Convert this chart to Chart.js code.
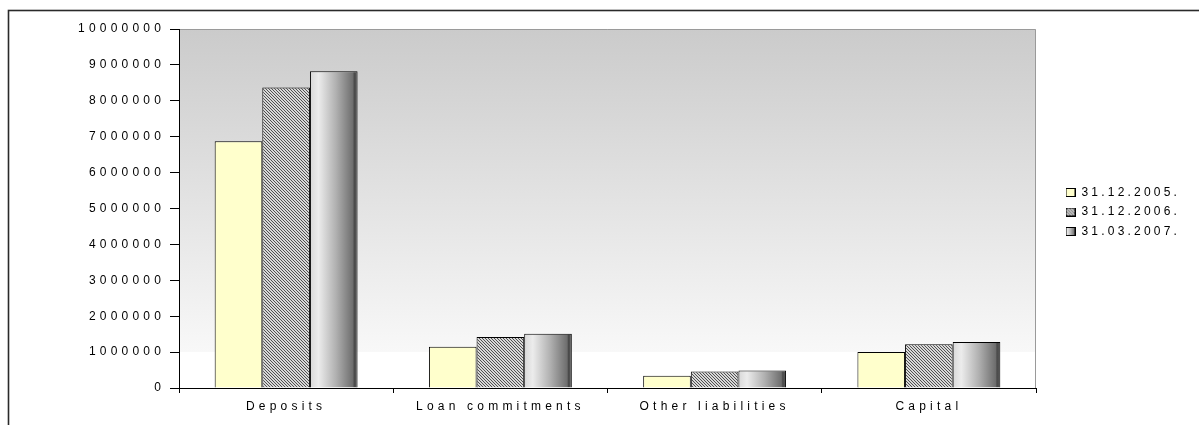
<!DOCTYPE html>
<html>
<head>
<meta charset="utf-8">
<script src="https://cdn.jsdelivr.net/npm/chart.js@4/dist/chart.umd.min.js"></script>
<style>
  html, body { margin: 0; padding: 0; background: #fff; }
  #wrap { width: 1199px; height: 425px; }
</style>
</head>
<body>
<div id="wrap"><canvas id="chart" width="1199" height="425"></canvas></div>
<script>
// Liabilities structure, three reporting dates
const CATEGORIES = ['Deposits', 'Loan commitments', 'Other liabilities', 'Capital'];
const SERIES_LABELS = ['31.12.2005.', '31.12.2006.', '31.03.2007.'];
const VALUES_2005 = [6870000, 1150000, 340000, 1000000];
const VALUES_2006 = [8370000, 1420000, 460000, 1220000];
const VALUES_2007 = [8820000, 1510000, 490000, 1280000];
const Y_MAX = 10000000;
const Y_STEP = 1000000;

const FONT = { family: '"Liberation Sans", Arial, sans-serif', size: 12 };
const LETTER_SPACING = '4.2px';
const LEGEND_SPACING = '3.2px';
const CAT_PCT = 0.667;

const canvas = document.getElementById('chart');

// fine diagonal hatch, like the old Excel fill
function hatchCanvas() {
    const c = document.createElement('canvas');
    c.width = 3; c.height = 3;
    const g = c.getContext('2d');
    g.fillStyle = '#d8d8d8';
    g.fillRect(0, 0, 3, 3);
    g.fillStyle = '#505050';
    for (let i = 0; i < 3; i++) g.fillRect(i, i, 1, 1);
    return c;
}
const HATCH = hatchCanvas();
const HATCH_PATTERN = canvas.getContext('2d').createPattern(HATCH, 'repeat');

function addGrayStops(gr) {
    gr.addColorStop(0, '#d8d8d8');
    gr.addColorStop(0.18, '#ececec');
    gr.addColorStop(0.55, '#b0b0b0');
    gr.addColorStop(0.9, '#6e6e6e');
    gr.addColorStop(0.93, '#4a4a4a');
    gr.addColorStop(1, '#5a5a5a');
}

function swatch(kind) {
    const c = document.createElement('canvas');
    c.width = 10; c.height = 9;
    const g = c.getContext('2d');
    if (kind === 'yellow') {
        g.fillStyle = '#ffffcc';
    } else if (kind === 'hatch') {
        g.fillStyle = g.createPattern(HATCH, 'repeat');
    } else {
        const gr = g.createLinearGradient(0, 0, 10, 0);
        addGrayStops(gr);
        g.fillStyle = gr;
    }
    g.fillRect(0, 0, 10, 9);
    g.strokeStyle = '#000';
    g.lineWidth = 1;
    g.strokeRect(0.5, 0.5, 9, 8);
    return c;
}
const SWATCHES = [swatch('yellow'), swatch('hatch'), swatch('gray')];

function grayBarFill(c) {
    const chart = c.chart;
    const xs = chart.scales.x;
    if (!chart.chartArea || !xs || c.type !== 'data') return '#b0b0b0';
    const catW = xs.width / CATEGORIES.length;
    const barW = catW * CAT_PCT / 3;
    const left = xs.getPixelForValue(c.dataIndex) + barW / 2;
    const gr = chart.ctx.createLinearGradient(left, 0, left + barW, 0);
    addGrayStops(gr);
    return gr;
}

const framePlugin = {
    id: 'frame',
    afterInit(chart) {
        const lg = chart.legend;
        const fit = lg.fit;
        const draw = lg.draw;
        lg.fit = function () { fit.call(this); this.width = 163; };
        lg.draw = function () {
            const prev = this.ctx.letterSpacing;
            this.ctx.letterSpacing = LEGEND_SPACING;
            draw.call(this);
            this.ctx.letterSpacing = prev;
        };
    },
    beforeLayout(chart) {
        chart.ctx.letterSpacing = LETTER_SPACING;
    },
    afterLayout(chart) {
        const lg = chart.legend;
        lg.left += 22; lg.right += 22;
        lg.top -= 15; lg.bottom -= 15;
    },
    beforeDraw(chart) {
        const ctx = chart.ctx;
        const a = chart.chartArea;
        ctx.letterSpacing = LETTER_SPACING;
        ctx.save();
        // outer chart frame
        ctx.strokeStyle = '#2a2a2a';
        ctx.lineWidth = 1.6;
        ctx.strokeRect(8.5, 10.5, 1300, 600);
        // plot area: gray -> white wash
        const gr = ctx.createLinearGradient(0, a.top, 0, a.bottom);
        gr.addColorStop(0, '#cbcbcb');
        gr.addColorStop(0.9, '#f8f8f8');
        gr.addColorStop(0.9, '#ffffff');
        gr.addColorStop(1, '#ffffff');
        ctx.fillStyle = gr;
        ctx.fillRect(a.left, a.top, a.right - a.left, a.bottom - a.top);
        ctx.strokeStyle = '#9a9a9a';
        ctx.lineWidth = 1;
        ctx.beginPath();
        ctx.moveTo(a.left, a.top + 0.5);
        ctx.lineTo(a.right - 0.5, a.top + 0.5);
        ctx.lineTo(a.right - 0.5, a.bottom);
        ctx.stroke();
        ctx.restore();
    },
};

new Chart(canvas, {
    type: 'bar',
    data: {
        labels: CATEGORIES,
        datasets: [
            { label: SERIES_LABELS[0], data: VALUES_2005, backgroundColor: '#ffffcc' },
            { label: SERIES_LABELS[1], data: VALUES_2006, backgroundColor: HATCH_PATTERN },
            { label: SERIES_LABELS[2], data: VALUES_2007, backgroundColor: grayBarFill },
        ],
    },
    options: {
        responsive: false,
        animation: false,
        devicePixelRatio: 1,
        layout: { padding: { left: 0, right: 0, top: 29, bottom: 0 } },
        datasets: {
            bar: {
                categoryPercentage: CAT_PCT,
                barPercentage: 1.0,
                borderColor: '#000',
                borderWidth: 1,
            },
        },
        plugins: {
            legend: {
                position: 'right',
                labels: {
                    usePointStyle: true,
                    boxWidth: 10,
                    boxHeight: 9,
                    padding: 7.5,
                    color: '#000',
                    font: FONT,
                    generateLabels: (chart) => chart.data.datasets.map((ds, i) => ({
                        text: ds.label,
                        pointStyle: SWATCHES[i],
                        datasetIndex: i,
                        hidden: false,
                        lineWidth: 0,
                    })),
                },
            },
            tooltip: { enabled: false },
        },
        scales: {
            x: {
                grid: { drawOnChartArea: false, tickLength: 5, color: '#000', offset: true },
                border: { color: '#000', width: 1 },
                ticks: { color: '#000', font: FONT, padding: 6, maxRotation: 0 },
                afterFit: (s) => { s.height = 37; },
            },
            y: {
                min: 0,
                max: Y_MAX,
                grid: { drawOnChartArea: false, tickLength: 9, color: '#000' },
                border: { color: '#000', width: 1 },
                ticks: {
                    stepSize: Y_STEP,
                    color: '#000',
                    font: FONT,
                    padding: 5,
                    callback: (v) => String(v),
                },
                afterFit: (s) => { s.width = 179; },
            },
        },
    },
    plugins: [framePlugin],
});
</script>
</body>
</html>
